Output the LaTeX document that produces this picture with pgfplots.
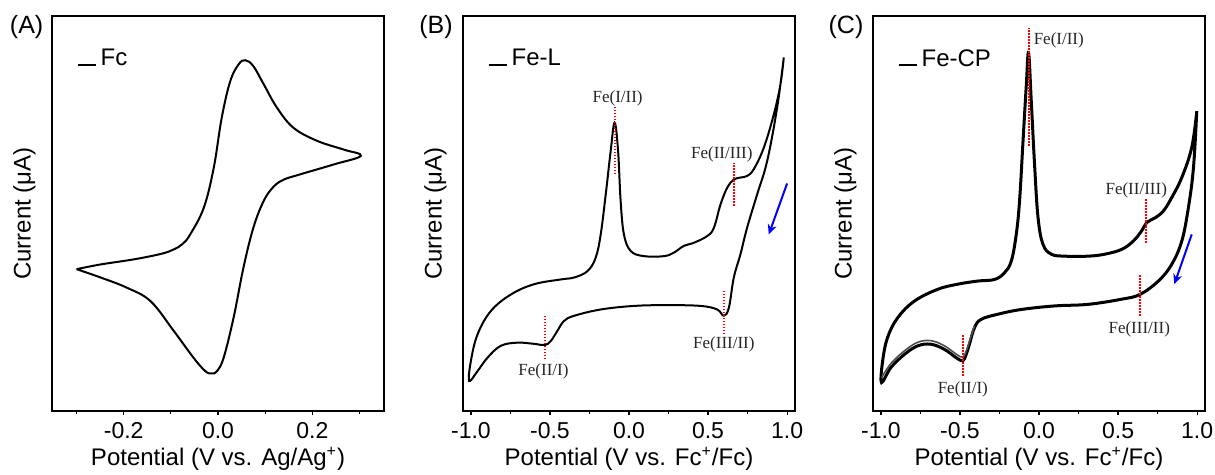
\documentclass[border=0pt]{standalone}
\usepackage{pgfplots}
\pgfplotsset{compat=1.18}
\usepackage{fontspec}
\setmainfont{Liberation Sans}
\newfontfamily\annfont{Liberation Serif}
\usetikzlibrary{arrows.meta}

% cyclic voltammograms, current in arbitrary units
\pgfplotstableread{
x y
-0.300 35.9
-0.249 37.1
-0.178 38.4
-0.120 39.8
-0.094 40.9
-0.075 42.3
-0.059 44.7
-0.030 51.5
-0.009 61.6
0.008 74.3
0.026 83.5
0.044 87.8
0.058 88.8
0.075 87.3
0.097 82.7
0.125 76.8
0.160 71.7
0.210 68.4
0.266 66.2
0.303 64.6
0.245 62.4
0.174 59.9
0.140 58.6
0.118 56.8
0.097 53.2
0.075 46.4
0.054 36.3
0.033 23.6
0.012 13.5
-0.002 10.1
-0.013 9.5
-0.027 10.1
-0.052 13.5
-0.094 20.3
-0.143 27.8
-0.193 31.2
-0.249 33.8
-0.300 35.9
}\cvFc

\pgfplotstableread{
x y
0.979 89.5
0.937 76.8
0.874 63.3
0.811 54.9
0.747 46.4
0.705 39.7
0.663 33.8
0.632 26.2
0.600 24.1
0.558 25.7
0.453 26.6
0.242 26.8
0.032 26.6
-0.179 25.7
-0.347 24.1
-0.411 22.8
-0.453 20.3
-0.495 17.7
-0.533 16.7
-0.600 17.0
-0.705 17.3
-0.811 16.5
-0.895 13.5
-0.958 10.1
-1.011 7.6
-1.000 12.7
-0.958 19.4
-0.874 25.3
-0.747 29.5
-0.600 32.1
-0.432 33.3
-0.347 33.8
-0.263 35.4
-0.211 38.8
-0.179 44.7
-0.147 54.9
-0.116 65.8
-0.091 73.0
-0.069 65.8
-0.053 53.2
-0.032 44.7
0.011 40.5
0.095 39.2
0.221 39.2
0.284 40.1
0.347 41.8
0.411 42.6
0.495 44.3
0.537 46.4
0.579 52.3
0.621 56.5
0.663 58.6
0.705 59.1
0.747 59.5
0.789 61.2
0.853 66.7
0.916 75.1
0.958 82.7
0.979 89.5
}\cvFeL

\pgfplotstableread{
x y
0.998 75.9
0.977 61.6
0.945 51.5
0.903 43.0
0.839 37.1
0.755 32.9
0.638 29.5
0.522 28.3
0.311 27.0
0.099 26.6
-0.112 25.7
-0.260 24.5
-0.366 23.2
-0.408 21.1
-0.440 16.9
-0.461 14.3
-0.482 12.7
-0.524 13.5
-0.598 15.6
-0.683 16.9
-0.767 16.5
-0.852 14.3
-0.937 11.0
-0.996 7.2
-0.989 12.7
-0.958 18.6
-0.894 23.6
-0.789 27.8
-0.641 30.8
-0.514 32.1
-0.387 32.9
-0.281 33.3
-0.218 35.0
-0.175 38.0
-0.144 44.7
-0.123 53.2
-0.101 68.4
-0.080 82.7
-0.066 90.7
-0.049 78.5
-0.027 61.6
-0.006 48.9
0.025 42.2
0.078 39.7
0.163 39.2
0.311 39.2
0.416 39.7
0.522 40.9
0.596 43.0
0.649 45.6
0.681 47.7
0.734 48.9
0.786 50.6
0.839 54.0
0.903 59.1
0.966 66.7
0.998 75.9
}\cvFeCP

% later scan of Fe-CP, cathodic part near the negative limit
\pgfplotstableread{
x y
-0.408 21.6
-0.440 17.6
-0.461 15.1
-0.482 13.6
-0.524 14.4
-0.598 16.5
-0.683 17.8
-0.767 17.4
-0.852 15.2
-0.937 12.0
-0.996 8.4
}\cvFeCPb

\pgfplotsset{
  cvpanel/.style={
    scale only axis, width=166pt, height=197.5pt,
    anchor=north west,
    axis line style={line width=0.7pt},
    ymin=0, ymax=100, ytick=\empty,
    xtick pos=bottom, tick align=outside,
    major tick length=2.2pt, minor tick length=1.4pt,
    every tick/.style={line width=0.6pt, black},
    /pgf/number format/assume math mode=true,
    /pgf/number format/fixed, /pgf/number format/fixed zerofill,
    /pgf/number format/precision=1,
    ticklabel style={font=\fontsize{11.5}{13}\selectfont},
    label style={font=\fontsize{12}{14}\selectfont},
    xlabel style={at={(axis description cs:0.5,-0.1215)}, anchor=center},
    ylabel style={at={(axis description cs:-0.083,0.5)}, anchor=center},
    ylabel={Current (μA)},
    legend style={draw=none, fill=none, at={(axis description cs:0.055,0.937)},
      anchor=north west, font=\fontsize{12}{14}\selectfont},
    legend image code/.code={\draw[line width=1pt,black] (0pt,-3pt) -- (9pt,-3pt);},
  },
  cv/.style={black, line width=1pt, smooth, tension=0.62},
}
\tikzset{
  peak/.style={red, line width=1pt, dash pattern=on 0.8pt off 0.7pt},
  peaklabel/.style={font=\annfont\fontsize{8.5}{10}\selectfont, text=black!85, inner sep=0pt},
  scanarrow/.style={blue, line width=1pt, -{Stealth[length=5pt,width=4.5pt]}},
}

\begin{document}
\begin{tikzpicture}
\path[use as bounding box] (0,0) rectangle (607.5pt,-237.5pt);

\node[font=\fontsize{12.5}{14}\selectfont] at (13.3pt,-13.5pt) {(A)};
\node[font=\fontsize{12.5}{14}\selectfont] at (218pt,-13.5pt) {(B)};
\node[font=\fontsize{12.5}{14}\selectfont] at (423pt,-13.5pt) {(C)};

% (A) ferrocene reference
\begin{axis}[cvpanel, at={(26pt,-8pt)},
  xmin=-0.352, xmax=0.352,
  xtick={-0.2,0,0.2}, minor xtick={-0.3,-0.1,0.1,0.3},
  xlabel={Potential (V vs. Ag/Ag\textsuperscript{+})}]
\addplot[cv] table {\cvFc};
\addlegendentry{Fc}
\end{axis}

% (B) Fe-L
\begin{axis}[cvpanel, at={(231.5pt,-8pt)},
  xmin=-1.05, xmax=1.05,
  xtick={-1,-0.5,0,0.5,1}, minor xtick={-0.75,-0.25,0.25,0.75},
  xlabel={Potential (V vs. Fc\textsuperscript{+}/Fc)}]
\addplot[cv] table {\cvFeL};
\addlegendentry{Fe-L}
\draw[peak] (axis cs:-0.090,59.9) -- (axis cs:-0.090,77.2);
\draw[peak] (axis cs:0.663,51.9) -- (axis cs:0.663,62.9);
\draw[peak] (axis cs:0.600,19.4) -- (axis cs:0.600,30.4);
\draw[peak] (axis cs:-0.533,13.1) -- (axis cs:-0.533,24.1);
\node[peaklabel] at (axis cs:-0.072,79.2) {Fe(I/II)};
\node[peaklabel] at (axis cs:0.587,65.0) {Fe(II/III)};
\node[peaklabel] at (axis cs:0.600,16.9) {Fe(III/II)};
\node[peaklabel] at (axis cs:-0.541,10.1) {Fe(II/I)};
\draw[scanarrow] (axis cs:1.000,57.6) -- (axis cs:0.884,44.7);
\end{axis}

% (C) Fe-CP, several overlapping scans
\begin{axis}[cvpanel, at={(436.5pt,-8pt)},
  xmin=-1.05, xmax=1.05,
  xtick={-1,-0.5,0,0.5,1}, minor xtick={-0.75,-0.25,0.25,0.75},
  xlabel={Potential (V vs. Fc\textsuperscript{+}/Fc)}]
\addplot[cv, line width=1.5pt] table {\cvFeCP};
\addlegendentry{Fe-CP}
\addplot[cv, line width=0.8pt, black!70, forget plot] table {\cvFeCPb};
\draw[peak] (axis cs:-0.066,67.1) -- (axis cs:-0.066,97.0);
\draw[peak] (axis cs:0.674,42.6) -- (axis cs:0.674,53.6);
\draw[peak] (axis cs:0.638,24.1) -- (axis cs:0.638,34.6);
\draw[peak] (axis cs:-0.482,8.9) -- (axis cs:-0.482,19.4);
\node[peaklabel] at (axis cs:0.125,93.7) {Fe(I/II)};
\node[peaklabel] at (axis cs:0.615,55.9) {Fe(II/III)};
\node[peaklabel] at (axis cs:0.634,20.7) {Fe(III/II)};
\node[peaklabel] at (axis cs:-0.482,5.5) {Fe(II/I)};
\draw[scanarrow] (axis cs:0.966,44.7) -- (axis cs:0.856,32.1);
\end{axis}
\end{tikzpicture}
\end{document}
